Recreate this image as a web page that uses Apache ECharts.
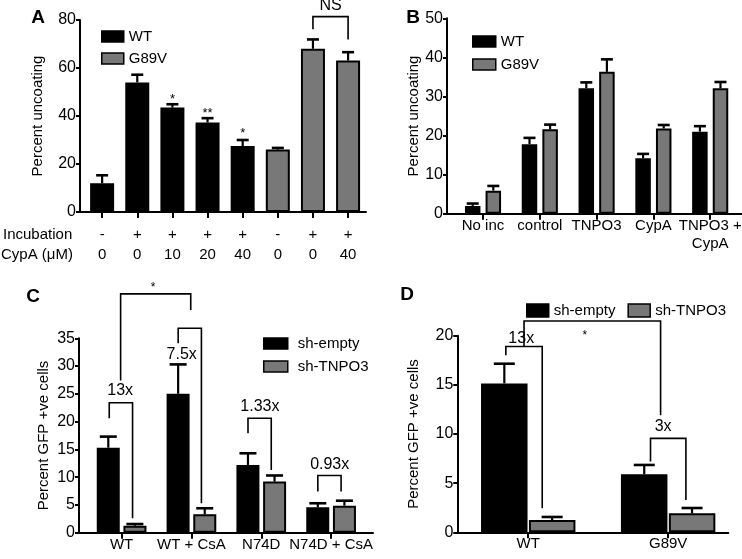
<!DOCTYPE html>
<html>
<head>
<meta charset="utf-8">
<script src="https://cdn.jsdelivr.net/npm/echarts@6/dist/echarts.min.js"></script>
<style>
  html, body { margin: 0; padding: 0; background: #fff; }
  #chart { width: 742px; height: 559px; }
</style>
</head>
<body>
<div id="chart"></div>
<script>
// ---- Panel A: in vitro uncoating ----
const incubation = ['-', '+', '+', '+', '+', '-', '+', '+'];
const cypaConc = ['0', '0', '10', '20', '40', '0', '0', '40'];
const aWT = [12, 54, 43.5, 37.3, 27.5, null, null, null];
const aWTErr = [15.3, 57.2, 44.9, 39.1, 30, null, null, null];
const aG89V = [null, null, null, null, null, 26, 68, 63.1];
const aG89VErr = [null, null, null, null, null, 26.7, 71.9, 66.6];
const aStars = [[2, 48.7, '*'], [3, 42.9, '**'], [4, 34.5, '*']];
// [xLeft, yLeftEnd, xRight, yRightEnd, yTop, labelX, labelY, label]
const aBrackets = [[6, 76.1, 7, 71.9, 81.4, 6.5, 86.2, 'NS']];

// ---- Panel B ----
const bCats = ['No inc', 'control', 'TNPO3', 'CypA', 'TNPO3 +\nCypA'];
const bWT = [2, 17.8, 32.1, 14.2, 21];
const bWTErr = [2.6, 19.4, 33.6, 15.3, 22.4];
const bG89V = [5.9, 21.6, 36.3, 21.8, 32.1];
const bG89VErr = [7.1, 22.8, 39.5, 22.7, 33.7];

// ---- Panel C ----
const cCats = ['WT', 'WT + CsA', 'N74D', 'N74D + CsA'];
const cEmpty = [15.3, 25.0, 12.2, 4.56];
const cEmptyErr = [17.3, 30.3, 14.3, 5.3];
const cTNPO3 = [1.26, 3.3, 9.2, 4.86];
const cTNPO3Err = [1.56, 4.4, 10.3, 5.76];
const cBrackets = [
  [-0.177, 20.6, 0.157, 2.6, 23.4, -0.02, 25.6, '13x'],
  [0.81, 34.1, 1.143, 5.3, 36.8, 0.86, 32, '7.5x'],
  [-0.014, 27.4, 0.99, 40.1, 43, 0.45, 44.8, '*'],
  [1.81, 17.9, 2.143, 11.3, 20.6, 1.98, 22.7, '1.33x'],
  [2.81, 7.4, 3.143, 7.4, 10.3, 2.98, 12.2, '0.93x']
];

// ---- Panel D ----
const dCats = ['WT', 'G89V'];
const dEmpty = [15.15, 5.9];
const dEmptyErr = [17.15, 6.85];
const dTNPO3 = [1.25, 1.93];
const dTNPO3Err = [1.56, 2.47];
const dBrackets = [
  [-0.16, 18.0, 0.1, 2.44, 18.9, -0.05, 19.7, '13x'],
  [-0.03, 18.9, 0.946, 11.9, 21.5, 0.405, 20.4, '*'],
  [0.874, 7.19, 1.127, 3.29, 9.56, 0.964, 10.75, '3x']
];

const FONT = '"Liberation Sans", Arial, sans-serif';
const GRAY = '#787878';

function points(vals) {
  const out = [];
  vals.forEach((v, i) => { if (v != null) out.push([i, v]); });
  return out;
}
function errItems(vals, errs, side) {
  const out = [];
  vals.forEach((v, i) => { if (v != null) out.push([i, v, errs[i], side]); });
  return out;
}

function xAxisOpt(gridIndex, min, max, count, fmt, extra) {
  const ticks = [];
  for (let i = 0; i < count; i++) ticks.push(i);
  return {
    gridIndex: gridIndex, type: 'value', min: min, max: max,
    axisLine: { show: true, onZero: false, lineStyle: { color: '#000', width: 2 } },
    axisTick: { show: true, customValues: ticks, length: 6, lineStyle: { color: '#000', width: 2 } },
    axisLabel: Object.assign({
      customValues: ticks, formatter: (v) => fmt[Math.round(v)],
      color: '#000', fontSize: 15, fontFamily: FONT
    }, extra),
    splitLine: { show: false }
  };
}

function yAxisOpt(gridIndex, max, interval, name, nameGap) {
  return {
    gridIndex: gridIndex, type: 'value', min: 0, max: max, interval: interval,
    axisLine: { show: true, onZero: false, lineStyle: { color: '#000', width: 2 } },
    axisTick: { show: true, length: 4, lineStyle: { color: '#000', width: 2 } },
    axisLabel: { color: '#000', fontSize: 16, fontFamily: FONT, margin: 4 },
    splitLine: { show: false },
    name: name, nameLocation: 'middle', nameGap: nameGap,
    nameTextStyle: { color: '#000', fontSize: 15, fontFamily: FONT }
  };
}

function barSeries(name, gridIndex, vals, color, width, gap) {
  return {
    type: 'bar', name: name, xAxisIndex: gridIndex, yAxisIndex: gridIndex,
    data: points(vals), barWidth: width, barGap: gap,
    itemStyle: { color: color, borderColor: '#000', borderWidth: 2 },
    emphasis: { disabled: true }, z: 2
  };
}

function errorSeries(gridIndex, items, offsetPx, capPx) {
  return {
    type: 'custom', xAxisIndex: gridIndex, yAxisIndex: gridIndex,
    clip: false, silent: true, z: 5,
    data: items, encode: { x: 0, y: [1, 2] },
    renderItem: function (params, api) {
      const base = api.coord([api.value(0), api.value(1)]);
      const top = api.coord([api.value(0), api.value(2)]);
      const x = base[0] + api.value(3) * offsetPx;
      return {
        type: 'group', children: [
          { type: 'line', shape: { x1: x, y1: base[1], x2: x, y2: top[1] }, style: { stroke: '#000', lineWidth: 2.2 } },
          { type: 'line', shape: { x1: x - capPx / 2, y1: top[1], x2: x + capPx / 2, y2: top[1] }, style: { stroke: '#000', lineWidth: 2.6 } }
        ]
      };
    }
  };
}

function textEl(text, p, size) {
  const star = /^\*+$/.test(text);
  return {
    type: 'text', x: p[0], y: p[1] + (star ? size * 0.3 : 0),
    style: { text: text, fill: '#000', fontSize: size, fontFamily: FONT, align: 'center', verticalAlign: 'middle' }
  };
}

function bracketSeries(gridIndex, list, size) {
  return {
    type: 'custom', xAxisIndex: gridIndex, yAxisIndex: gridIndex,
    clip: false, silent: true, z: 6,
    data: list.map((b) => [b[0], b[4]]), encode: { x: 0, y: 1 },
    renderItem: function (params, api) {
      const b = list[params.dataIndex];
      const pts = [api.coord([b[0], b[1]]), api.coord([b[0], b[4]]), api.coord([b[2], b[4]]), api.coord([b[2], b[3]])];
      return {
        type: 'group', children: [
          { type: 'polyline', shape: { points: pts }, style: { stroke: '#000', lineWidth: 1.6, fill: null } },
          textEl(b[7], api.coord([b[5], b[6]]), b[7] === '*' ? 12 : size)
        ]
      };
    }
  };
}

function noteSeries(gridIndex, list, size) {
  return {
    type: 'custom', xAxisIndex: gridIndex, yAxisIndex: gridIndex,
    clip: false, silent: true, z: 6,
    data: list.map((s) => [s[0], s[1]]), encode: { x: 0, y: 1 },
    renderItem: function (params, api) {
      const s = list[params.dataIndex];
      return textEl(s[2], api.coord([s[0], s[1]]), size);
    }
  };
}

const legendBase = {
  icon: 'rect', selectedMode: false,
  itemStyle: { borderColor: '#000', borderWidth: 1.5 },
  textStyle: { color: '#000', fontSize: 15, fontFamily: FONT }
};

const option = {
  animation: false,
  backgroundColor: '#fff',
  textStyle: { fontFamily: FONT },
  grid: [
    { left: 80, top: 20, width: 286, height: 192, outerBoundsMode: 'none' },
    { left: 447, top: 18.3, width: 295, height: 195.4, outerBoundsMode: 'none' },
    { left: 79, top: 338.3, width: 294, height: 194.4, outerBoundsMode: 'none' },
    { left: 457.3, top: 335.7, width: 271, height: 196.6, outerBoundsMode: 'none' }
  ],
  xAxis: [
    xAxisOpt(0, -0.63, 7.51, 8, incubation.map((s, i) => s + '\n' + cypaConc[i]), { lineHeight: 20, margin: 13 }),
    xAxisOpt(1, -0.634, 4.56, 5, bCats, { lineHeight: 18, margin: 3 }),
    xAxisOpt(2, -0.61, 3.6, 4, cCats, { margin: 5 }),
    xAxisOpt(3, -0.507, 1.43, 2, dCats, { margin: 4 })
  ],
  yAxis: [
    yAxisOpt(0, 80, 20, 'Percent uncoating', 35),
    yAxisOpt(1, 50, 10, 'Percent uncoating', 26),
    yAxisOpt(2, 35, 5, 'Percent GFP +ve cells', 28),
    yAxisOpt(3, 20, 5, 'Percent GFP +ve cells', 36)
  ],
  legend: [
    Object.assign({}, legendBase, { orient: 'vertical', left: 96, top: 24, itemWidth: 22, itemHeight: 11, itemGap: 7, data: ['WT', 'G89V'] }),
    Object.assign({}, legendBase, { orient: 'vertical', left: 467, top: 29, itemWidth: 23, itemHeight: 11, itemGap: 8, data: ['WT', 'G89V'] }),
    Object.assign({}, legendBase, { orient: 'vertical', left: 258, top: 331, itemWidth: 24, itemHeight: 11, itemGap: 8, data: ['sh-empty', 'sh-TNPO3'],
      textStyle: { color: '#000', fontSize: 15, fontFamily: FONT, padding: [0, 0, 0, 5] } }),
    Object.assign({}, legendBase, { orient: 'horizontal', left: 521, top: 298, itemWidth: 22, itemHeight: 13, itemGap: 12, data: ['sh-empty', 'sh-TNPO3'] })
  ],
  graphic: [
    { type: 'text', x: 38, y: 18, style: { text: 'A', fill: '#000', font: 'bold 19px ' + FONT, align: 'center', verticalAlign: 'middle' } },
    { type: 'text', x: 413, y: 18, style: { text: 'B', fill: '#000', font: 'bold 19px ' + FONT, align: 'center', verticalAlign: 'middle' } },
    { type: 'text', x: 33, y: 297, style: { text: 'C', fill: '#000', font: 'bold 19px ' + FONT, align: 'center', verticalAlign: 'middle' } },
    { type: 'text', x: 407, y: 295, style: { text: 'D', fill: '#000', font: 'bold 19px ' + FONT, align: 'center', verticalAlign: 'middle' } },
    { type: 'text', x: 3, y: 235, style: { text: 'Incubation', fill: '#000', font: '15px ' + FONT, align: 'left', verticalAlign: 'middle' } },
    { type: 'text', x: 1, y: 255, style: { text: 'CypA (\u03bcM)', fill: '#000', font: '15px ' + FONT, align: 'left', verticalAlign: 'middle' } }
  ],
  series: [
    barSeries('WT', 0, aWT, '#000', 24, '-100%'),
    barSeries('G89V', 0, aG89V, GRAY, 24, '-100%'),
    errorSeries(0, errItems(aWT, aWTErr, 0).concat(errItems(aG89V, aG89VErr, 0)), 0, 12),
    bracketSeries(0, aBrackets, 16),
    noteSeries(0, aStars, 13),

    barSeries('WT', 1, bWT, '#000', 15.5, '33%'),
    barSeries('G89V', 1, bG89V, GRAY, 15.5, '33%'),
    errorSeries(1, errItems(bWT, bWTErr, -1).concat(errItems(bG89V, bG89VErr, 1)), 10.3, 12),

    barSeries('sh-empty', 2, cEmpty, '#000', 23, '16%'),
    barSeries('sh-TNPO3', 2, cTNPO3, GRAY, 23, '16%'),
    errorSeries(2, errItems(cEmpty, cEmptyErr, -1).concat(errItems(cTNPO3, cTNPO3Err, 1)), 13.3, 17),
    bracketSeries(2, cBrackets, 16),

    barSeries('sh-empty', 3, dEmpty, '#000', 46.5, '3%'),
    barSeries('sh-TNPO3', 3, dTNPO3, GRAY, 46.5, '3%'),
    errorSeries(3, errItems(dEmpty, dEmptyErr, -1).concat(errItems(dTNPO3, dTNPO3Err, 1)), 23.9, 21),
    bracketSeries(3, dBrackets, 16)
  ]
};

const chart = echarts.init(document.getElementById('chart'));
chart.setOption(option);
</script>
</body>
</html>
